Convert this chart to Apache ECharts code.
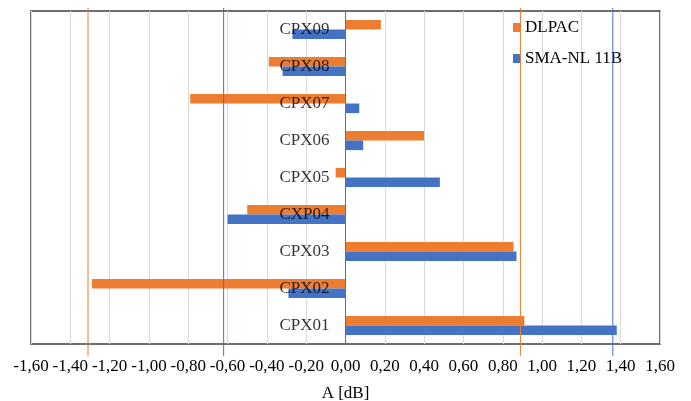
<!DOCTYPE html>
<html>
<head>
<meta charset="utf-8">
<script src="https://cdn.jsdelivr.net/npm/echarts@6/dist/echarts.min.js"></script>
<style>html,body{margin:0;padding:0;background:#fff;}#c{width:691px;height:401px;}</style>
</head>
<body>
<div id="c"></div>
<script>
var categories = ['CPX01','CPX02','CPX03','CXP04','CPX05','CPX06','CPX07','CPX08','CPX09'];
var dlpac = [0.91, -1.29, 0.855, -0.50, -0.05, 0.40, -0.79, -0.39, 0.18];
var sma = [1.38, -0.29, 0.87, -0.60, 0.48, 0.09, 0.07, -0.32, -0.27];
var dlpacLimits = [-1.31, 0.89];
var smaLimits = [-0.62, 1.36];
var xTicksMin = -1.6, xTicksMax = 1.6, xTickStep = 0.2;

var FONT = "'Liberation Serif','Times New Roman',serif";
var ORANGE = '#ED7D31', BLUE = '#4472C4';
function fmt(v){ if (Math.abs(v) < 1e-9) v = 0; return v.toFixed(2).replace('.', ','); }
function vline(x){ return [[x, 0], [x, 1]]; }

var chart = echarts.init(document.getElementById('c'), null, {renderer: 'canvas'});
chart.setOption({
  animation: false,
  textStyle: {fontFamily: FONT},
  legend: {
    data: ['DLPAC', 'SMA-NL 11B'],
    orient: 'vertical', left: 508, top: 14,
    icon: 'rect', itemWidth: 8, itemHeight: 9, itemGap: 14,
    textStyle: {fontFamily: FONT, fontSize: 17, color: '#000', padding: [0,0,0,-1]}
  },
  grid: [
    {left: 31, right: 31, top: 11, bottom: 57, show: true, borderColor: '#404040', borderWidth: 1.5,
     containLabel: false, outerBoundsMode: 'none'},
    {left: 31, right: 31, top: 8, bottom: 45, containLabel: false, outerBoundsMode: 'none'}
  ],
  xAxis: [
    {type: 'value', gridIndex: 0, min: xTicksMin, max: xTicksMax, interval: xTickStep,
     axisLine: {show: false}, axisTick: {show: false},
     splitLine: {show: true, lineStyle: {color: '#d9d9d9', width: 1}},
     axisLabel: {formatter: fmt, fontFamily: FONT, fontSize: 17, color: '#000', margin: 14},
     name: 'A [dB]', nameLocation: 'middle', nameGap: 41,
     nameTextStyle: {fontFamily: FONT, fontSize: 17, color: '#000'}},
    {type: 'value', gridIndex: 1, min: xTicksMin, max: xTicksMax, show: false}
  ],
  yAxis: [
    {type: 'category', gridIndex: 0, data: categories, z: 10,
     axisLine: {show: true, onZero: true, lineStyle: {color: BLUE, width: 1}},
     axisTick: {show: false}, splitLine: {show: false},
     axisLabel: {show: false}},
    {type: 'value', gridIndex: 1, min: 0, max: 1, show: false}
  ],
  series: [
    {name: 'DLPAC', type: 'bar', xAxisIndex: 0, yAxisIndex: 0, data: dlpac,
     itemStyle: {color: ORANGE}, barGap: '0%', barCategoryGap: '48%'},
    {name: 'SMA-NL 11B', type: 'bar', xAxisIndex: 0, yAxisIndex: 0, data: sma,
     itemStyle: {color: BLUE}, barGap: '0%', barCategoryGap: '48%'},
    {name: 'catLabels', type: 'scatter', xAxisIndex: 0, yAxisIndex: 0, z: 20,
     data: categories.map(function(c){ return [0, c]; }),
     symbolSize: 0, silent: true,
     label: {show: true, position: 'left', distance: 16, formatter: function(p){ return p.value[1]; },
             fontFamily: FONT, fontSize: 17, color: '#000'}},
    {name: 'dl1', type: 'line', xAxisIndex: 1, yAxisIndex: 1, data: vline(dlpacLimits[0]), symbol: 'none', z: 5, lineStyle: {color: ORANGE, width: 1}},
    {name: 'dl2', type: 'line', xAxisIndex: 1, yAxisIndex: 1, data: vline(dlpacLimits[1]), symbol: 'none', z: 5, lineStyle: {color: ORANGE, width: 1}},
    {name: 'sm1', type: 'line', xAxisIndex: 1, yAxisIndex: 1, data: vline(smaLimits[0]), symbol: 'none', z: 5, lineStyle: {color: BLUE, width: 1}},
    {name: 'sm2', type: 'line', xAxisIndex: 1, yAxisIndex: 1, data: vline(smaLimits[1]), symbol: 'none', z: 5, lineStyle: {color: BLUE, width: 1}}
  ]
});
</script>
</body>
</html>
